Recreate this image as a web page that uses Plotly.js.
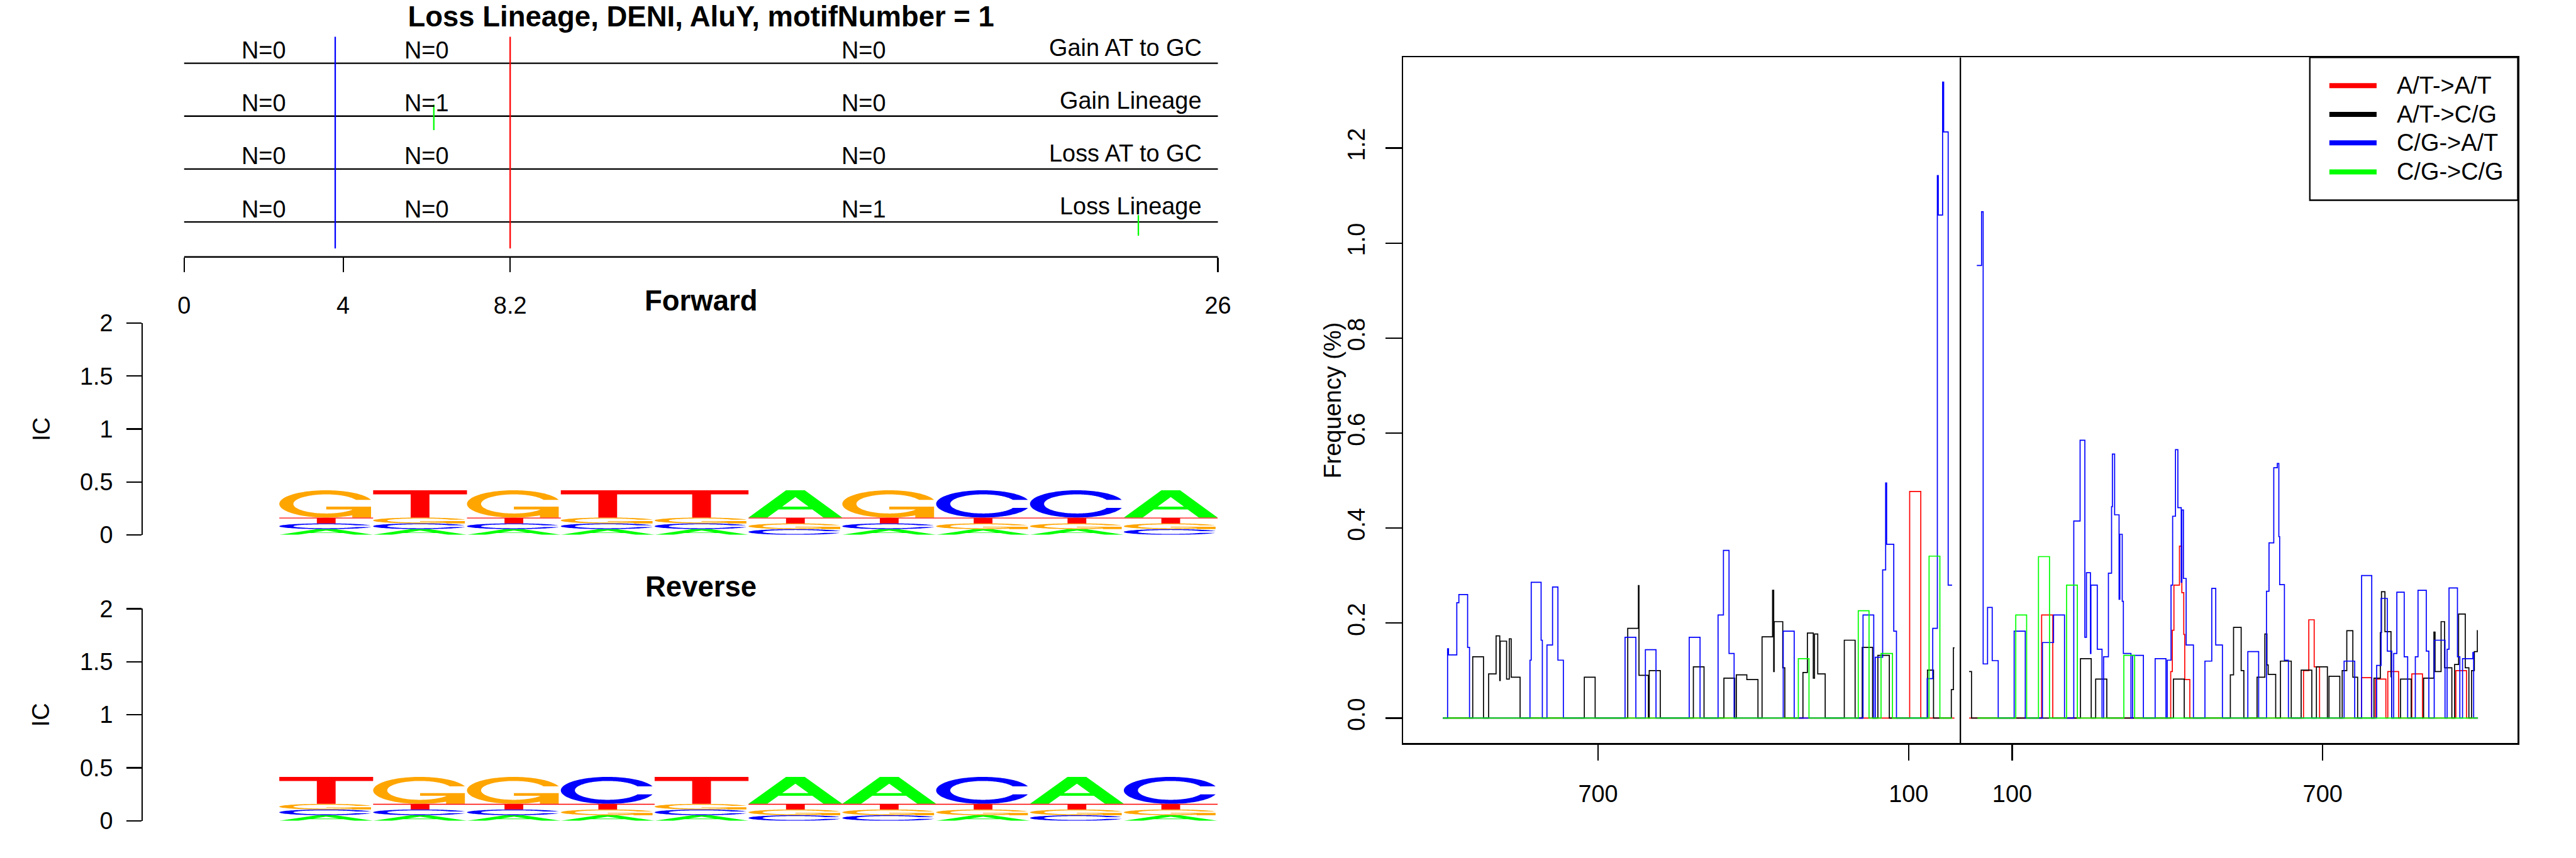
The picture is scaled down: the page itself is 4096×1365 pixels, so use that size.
<!DOCTYPE html>
<html>
<head>
<meta charset="utf-8">
<script src="https://cdn.plot.ly/plotly-3.0.1.min.js"></script>
<style>html,body{margin:0;padding:0;background:#fff;}#chart{width:4096px;height:1365px;}</style>
</head>
<body>
<div id="chart"></div>
<script>
// ================= DATA =================
// Top panel: event tracks
const rowNames = ['Gain AT to GC', 'Gain Lineage', 'Loss AT to GC', 'Loss Lineage'];
const rowLevels = [4, 3, 2, 1];
const regionBounds = [0, 4, 8.2, 26];
const countsGainATtoGC = [0, 0, 0];
const countsGainLineage = [0, 1, 0];
const countsLossATtoGC = [0, 0, 0];
const countsLossLineage = [0, 0, 1];
const motifEdgeX = [3.8, 8.2];
const motifEdgeColor = ['#0000FF', '#FF0000'];
const eventX = [6.28, 24.0];
const eventRow = [3, 1];
const eventUp = [0.217, 0.13];
const eventDown = [0.265, 0.26];

// Sequence logos (letters bottom -> top, information content heights)
const logoPos = [1, 2, 3, 4, 5, 6, 7, 8, 9, 10];
const fwdStack = ['ACTG', 'ACGT', 'ACTG', 'ACGT', 'ACGT', 'CGTA', 'ACTG', 'AGTC', 'AGTC', 'CGTA'];
const fwdHeight = [
  [0.054, 0.054, 0.055, 0.258], [0.054, 0.054, 0.055, 0.258], [0.054, 0.054, 0.055, 0.258],
  [0.054, 0.054, 0.055, 0.258], [0.054, 0.054, 0.055, 0.258], [0.054, 0.054, 0.055, 0.258],
  [0.054, 0.054, 0.055, 0.258], [0.054, 0.054, 0.055, 0.258], [0.054, 0.054, 0.055, 0.258],
  [0.054, 0.054, 0.055, 0.258]
];
const revStack = ['ACGT', 'ACTG', 'ACTG', 'AGTC', 'ACGT', 'CGTA', 'CGTA', 'AGTC', 'CGTA', 'AGTC'];
const revHeight = [
  [0.053, 0.054, 0.053, 0.254], [0.053, 0.054, 0.053, 0.254], [0.053, 0.054, 0.053, 0.254],
  [0.053, 0.054, 0.053, 0.254], [0.053, 0.054, 0.053, 0.254], [0.053, 0.054, 0.053, 0.254],
  [0.053, 0.054, 0.053, 0.254], [0.053, 0.054, 0.053, 0.254], [0.053, 0.054, 0.053, 0.254],
  [0.053, 0.054, 0.053, 0.254]
];
const logoTicks = [0, 0.5, 1, 1.5, 2];

// Frequency profile (signed distance; left half drawn mirrored)
const freqTickVals = [-700, -100, 100, 700];
const freqTickText = ['700', '100', '100', '700'];
const freqYTicks = [0, 0.2, 0.4, 0.6, 0.8, 1.0, 1.2];
const seriesNames = ['A/T->A/T', 'A/T->C/G', 'C/G->A/T', 'C/G->C/G'];
const seriesColors = ['#FF0000', '#000000', '#0000FF', '#00FF00'];

const redX = [-1000, -98.0, -76.5, -11.4, null,
  16.9, 157.0, 178.5, 406.4, 409.5, 412.6, 423.3, 427.9, 431.6, 433.5, 443.3,
  663.0, 673.2, 683.6, 694.0, 775.2, 794.2, 802.2, 822.1, 825.8, 846.7, 872.2, 892.8, 957.3, 977.9, 1000];
const redY = [0, 0.477, 0, 0, null,
  0, 0.217, 0, 0.098, 0.185, 0.28, 0.362, 0.264, 0.176, 0.081, 0,
  0.100, 0.207, 0.108, 0, 0.085, 0, 0.082, 0, 0.098, 0, 0.093, 0, 0.100, 0, 0];

const blackX = [-1000, -942.2, -921.4, -911.5, -897.1, -890.0, -889.1, -876.8, -871.6, -867.9, -850.7,
  -726.6, -705.7, -642.7, -622.1, -621.0, -602.8, -601.2, -579.8, -515.9, -495.3,
  -456.9, -436.0, -432.9, -412.6, -391.1, -383.2, -362.9, -360.7, -359.8, -343.2, -339.2,
  -304.2, -295.6, -284.2, -281.8, -275.6, -261.2, -224.3, -203.4, -189.6, -169.6, -159.4, -137.3,
  -63.6, -51.9, -17.5, -13.5, -11.4, null,
  16.9, 21.5, 232.0, 252.8, 261.4, 282.9, 411.6, 432.5, 521.6, 527.8, 542.5, 547.7,
  573.2, 588.3, 592.3, 594.7, 609.2, 618.4, 639.3, 658.4, 679.0, 687.9, 709.1, 712.2, 733.1,
  737.7, 746.6, 758.3, 767.5, 799.1, 811.4, 813.6, 820.3, 832.0, 833.5, 850.4, 871.0,
  895.0, 914.9, 917.1, 928.8, 935.5, 949.6, 954.9, 962.6, 975.5, 982.5, 987.7, 993.0, 998.8];
const blackY = [0, 0.129, 0, 0.093, 0.173, 0.079, 0.162, 0.082, 0.167, 0.086, 0,
  0.086, 0, 0.189, 0.279, 0.090, 0, 0.100, 0, 0.108, 0,
  0.084, 0, 0.091, 0.081, 0, 0.171, 0.269, 0.098, 0.203, 0.106, 0,
  0.096, 0.179, 0.084, 0.177, 0.093, 0, 0.164, 0, 0.149, 0, 0.132, 0,
  0.101, 0, 0.060, 0.148, 0.148, null,
  0.098, 0, 0.125, 0, 0.082, 0, 0.082, 0, 0.091, 0.191, 0.100, 0,
  0.086, 0.177, 0.112, 0.092, 0, 0.120, 0, 0.101, 0, 0.108, 0, 0.088, 0,
  0.100, 0.184, 0.086, 0, 0.084, 0.180, 0.266, 0.182, 0.087, 0, 0.082, 0,
  0.084, 0.181, 0.098, 0.203, 0.106, 0, 0.113, 0.219, 0.106, 0, 0.100, 0.140, 0.185];

const blueX = [-1000, -990.8, -989.0, -973.0, -969.0, -952.1, -948.4,
  -831.6, -829.2, -810.1, -807.7, -798.8, -788.0, -777.6, -767.1,
  -647.9, -627.0, -608.6, -588.1, -523.9, -503.0,
  -468.2, -457.8, -447.0, -437.2, -342.3, -321.1, -188.1, -167.4,
  -164.4, -150.2, -144.4, -142.5, -128.7, -123.5,
  -64.2, -53.4, -44.5, -42.7, -34.4, -32.3, -23.6, -16.0, null,
  31.7, 40.9, 44.0, 52.5, 61.5, 73.1, 103.9, 125.4, 158.5, 180.0, 201.2,
  219.1, 231.3, 240.5, 243.6, 251.3, 252.2, 264.5, 273.7, 276.8, 286.0, 292.1, 293.7, 298.0,
  306.6, 308.1, 312.7, 314.9, 329.6, 332.7, 353.6,
  376.3, 397.2, 399.7, 407.0, 410.1, 415.6, 420.2, 426.7, 427.9, 431.0, 436.2, 450.3,
  472.5, 485.7, 493.4, 506.3, 555.4, 576.3,
  591.4, 596.3, 605.5, 612.3, 615.3, 616.9, 626.1, 633.8,
  741.4, 761.9, 775.2, 794.8, 804.3, 812.9, 824.9, 833.5, 837.2, 843.3, 857.5, 864.2,
  879.0, 884.2, 900.2, 905.1, 915.5, 936.4, 940.4, 944.1, 960.4, 965.0, 970.2, 990.2, 991.7, 1000];
const blueY = [0, 0.146, 0.133, 0.243, 0.260, 0.149, 0,
  0.122, 0.286, 0.164, 0, 0.154, 0.276, 0.122, 0,
  0.170, 0, 0.144, 0, 0.170, 0,
  0.217, 0.353, 0.136, 0, 0.183, 0, 0.217, 0,
  0.128, 0.312, 0.495, 0.366, 0.183, 0,
  0.083, 0.189, 1.142, 1.059, 1.339, 1.234, 0.280, 0.280, null,
  0.953, 1.066, 0.114, 0.233, 0.121, 0, 0.183, 0, 0.159, 0.217, 0,
  0.415, 0.585, 0.170, 0.306, 0.136, 0.280, 0.145, 0, 0.129, 0.305, 0.445, 0.556, 0.428,
  0.250, 0.387, 0.246, 0.136, 0, 0.132, 0,
  0.125, 0, 0.122, 0.280, 0.425, 0.565, 0.443, 0.286, 0.438, 0.294, 0.154, 0,
  0.120, 0.273, 0.154, 0, 0.140, 0,
  0.267, 0.369, 0.527, 0.536, 0.382, 0.281, 0.122, 0,
  0.120, 0, 0.300, 0, 0.111, 0.252, 0.141, 0, 0.136, 0.265, 0.129, 0,
  0.129, 0.269, 0.141, 0, 0.164, 0, 0.145, 0.274, 0.129, 0, 0.125, 0.138, 0, 0];

const greenX = [-1000, -313.1, -292.5, -197.3, -176.5, -153.3, -131.2, -60.5, -39.6, -16.0, null,
  33.0, 107.0, 128.0, 150.9, 172.2, 205.2, 226.0, 315.8, 336.7, 1000];
const greenY = [0, 0.125, 0, 0.226, 0, 0.136, 0, 0.341, 0, 0, null,
  0, 0.217, 0, 0.340, 0, 0.280, 0, 0.132, 0, 0];

// ================= LAYOUT HELPERS =================
const FULL_W = 5400, FULL_H = 1800;
const K = 4096 / FULL_W;
const px = v => v / FULL_W;          // reference x pixel -> paper
const py = v => 1 - v / FULL_H;      // reference y pixel -> paper
const FS = 50 * K, FT = 60 * K;
const FONT = 'Liberation Sans, Arial, Helvetica, sans-serif';
const LW = 3 * K;

// ================= GLYPHS (unit square) =================
function arc(r, a0, a1, n) {
  const pts = [];
  for (let k = 0; k <= n; k++) {
    const t = a0 + (a1 - a0) * k / n;
    pts.push([0.5 + r * Math.sin(t), 0.5 + r * Math.cos(t)]);
  }
  return pts;
}
function ringC() {
  const a0 = 0.3 + Math.PI / 2;
  const outerLow = arc(0.5, a0, Math.PI, 30).concat(arc(0.5, Math.PI, 1.5 * Math.PI, 30).slice(1));
  const hmax = outerLow[0][1];
  const innerLow = arc(0.35, a0, Math.PI, 60).filter(p => p[1] <= hmax)
    .concat(arc(0.35, Math.PI, 1.5 * Math.PI, 30).slice(1));
  innerLow[0] = [innerLow[0][0], hmax];
  const mirror = pts => pts.slice().reverse().map(p => [p[0], 1 - p[1]]);
  const outer = outerLow.concat(mirror(outerLow).slice(1));
  const inner = innerLow.concat(mirror(innerLow).slice(1));
  return outer.concat(inner.slice().reverse());
}
const R1 = 0.5 + 0.5 * Math.sin(0.3 + Math.PI / 2);
const GLYPHS = {
  A: [[[0, 0], [0.4, 1], [0.6, 1], [1, 0], [0.8, 0], [0.68, 0.3], [0.32, 0.3], [0.2, 0], [0, 0],
       [0.36, 0.4], [0.64, 0.4], [0.5, 0.75], [0.36, 0.4]]],
  C: [ringC()],
  G: [ringC(), [[R1, 0.4], [R1, 0], [R1 - 0.2, 0], [R1 - 0.2, 0.3], [0.5, 0.3], [0.5, 0.4]]],
  T: [[[0, 1], [1, 1], [1, 0.85], [0.6, 0.85], [0.6, 0], [0.4, 0], [0.4, 0.85], [0, 0.85]]]
};
const LETTER_COLOR = {A: '#00FF00', C: '#0000FF', G: '#FFA500', T: '#FF0000'};

function logoTraces(stacks, heights, xa, ya) {
  const acc = {A: {x: [], y: []}, C: {x: [], y: []}, G: {x: [], y: []}, T: {x: [], y: []}};
  logoPos.forEach((p, i) => {
    let y0 = 0;
    stacks[i].split('').forEach((L, k) => {
      const h = heights[i][k];
      GLYPHS[L].forEach(poly => {
        poly.forEach(([u, v]) => { acc[L].x.push(p - 0.5 + u); acc[L].y.push(y0 + v * h); });
        acc[L].x.push(null); acc[L].y.push(null);
      });
      y0 += h;
    });
  });
  return 'ACGT'.split('').map(L => ({
    type: 'scatter', mode: 'lines', x: acc[L].x, y: acc[L].y, xaxis: xa, yaxis: ya,
    fill: 'toself', fillcolor: LETTER_COLOR[L], line: {width: 0, color: LETTER_COLOR[L], simplify: false},
    hoverinfo: 'skip', showlegend: false
  }));
}

// ================= TRACES =================
const traces = [];
// top panel rows
const rowX = [], rowY = [];
rowLevels.forEach(r => { rowX.push(regionBounds[0], regionBounds[regionBounds.length - 1], null); rowY.push(r, r, null); });
traces.push({type: 'scatter', mode: 'lines', x: rowX, y: rowY, xaxis: 'x', yaxis: 'y',
  line: {color: '#000', width: LW}, hoverinfo: 'skip', showlegend: false});
motifEdgeX.forEach((e, i) => traces.push({type: 'scatter', mode: 'lines', x: [e, e], y: [0.5, 4.5],
  xaxis: 'x', yaxis: 'y', line: {color: motifEdgeColor[i], width: LW}, hoverinfo: 'skip', showlegend: false}));
const evX = [], evY = [];
eventX.forEach((e, i) => { evX.push(e, e, null); evY.push(eventRow[i] - eventDown[i], eventRow[i] + eventUp[i], null); });
traces.push({type: 'scatter', mode: 'lines', x: evX, y: evY, xaxis: 'x', yaxis: 'y',
  line: {color: '#00FF00', width: LW}, hoverinfo: 'skip', showlegend: false});

// logos
traces.push(...logoTraces(fwdStack, fwdHeight, 'x2', 'y2'));
traces.push(...logoTraces(revStack, revHeight, 'x3', 'y3'));

// frequency series
[[redX, redY], [blackX, blackY], [blueX, blueY], [greenX, greenY]].forEach(([sx, sy], i) => {
  traces.push({type: 'scatter', mode: 'lines', name: seriesNames[i], x: sx, y: sy, xaxis: 'x4', yaxis: 'y4',
    line: {color: seriesColors[i], width: 1.7, shape: 'hv'}, connectgaps: false, hoverinfo: 'skip', showlegend: false});
});

// ================= ANNOTATIONS =================
const annotations = [];
const counts = [countsGainATtoGC, countsGainLineage, countsLossATtoGC, countsLossLineage];
const mids = regionBounds.slice(0, -1).map((b, i) => (b + regionBounds[i + 1]) / 2);
rowLevels.forEach((r, ri) => {
  mids.forEach((m, k) => annotations.push({xref: 'x', yref: 'y', x: m, y: r + 0.243, text: 'N=' + counts[ri][k],
    showarrow: false, xanchor: 'center', yanchor: 'middle', font: {size: FS}}));
  annotations.push({xref: 'x', yref: 'y', x: 25.63, y: r + 0.294, text: rowNames[ri],
    showarrow: false, xanchor: 'right', yanchor: 'middle', font: {size: FS}});
});
annotations.push({xref: 'paper', yref: 'paper', x: px(1469.5), y: py(631), text: '<b>Forward</b>',
  showarrow: false, xanchor: 'center', yanchor: 'middle', font: {size: FT}});
annotations.push({xref: 'paper', yref: 'paper', x: px(1469.5), y: py(1231), text: '<b>Reverse</b>',
  showarrow: false, xanchor: 'center', yanchor: 'middle', font: {size: FT}});
annotations.push({xref: 'paper', yref: 'paper', x: px(86), y: py(900), text: 'IC', textangle: -90,
  showarrow: false, xanchor: 'center', yanchor: 'middle', font: {size: FS}});
annotations.push({xref: 'paper', yref: 'paper', x: px(86), y: py(1499.5), text: 'IC', textangle: -90,
  showarrow: false, xanchor: 'center', yanchor: 'middle', font: {size: FS}});
annotations.push({xref: 'paper', yref: 'paper', x: px(2794), y: py(840), text: 'Frequency (%)', textangle: -90,
  showarrow: false, xanchor: 'center', yanchor: 'middle', font: {size: FS}});

// custom legend
const legY = [179.6, 240, 299.6, 360.5];
const shapes = [
  {type: 'line', xref: 'x', yref: 'y domain', x0: regionBounds[0], x1: regionBounds[3], y0: 0, y1: 0, line: {color: '#000', width: LW}},
  {type: 'line', xref: 'x4', yref: 'y4 domain', x0: 0, x1: 0, y0: 0, y1: 1, line: {color: '#000', width: LW}},
  {type: 'rect', xref: 'paper', yref: 'paper', x0: px(4842), x1: px(5278), y0: py(420), y1: py(120.5),
    line: {color: '#000', width: LW}, fillcolor: '#fff', layer: 'above'}
];
seriesNames.forEach((n, i) => {
  shapes.push({type: 'line', xref: 'paper', yref: 'paper', x0: px(4883), x1: px(4982), y0: py(legY[i]), y1: py(legY[i]),
    line: {color: seriesColors[i], width: 8}, layer: 'above'});
  annotations.push({xref: 'paper', yref: 'paper', x: px(5021), y: py(legY[i]), text: n, showarrow: false,
    xanchor: 'left', yanchor: 'middle', font: {size: FS}});
});

// ================= AXES =================
const baseAxis = {showgrid: false, zeroline: false, fixedrange: true, color: '#000', tickcolor: '#000', linecolor: '#000'};
const leftDomain = [px(299.3), px(2639.7)];
const layout = {
  width: 4096, height: 1365, margin: {l: 0, r: 0, t: 0, b: 0},
  paper_bgcolor: '#fff', plot_bgcolor: 'rgba(0,0,0,0)',
  font: {family: FONT, color: '#000', size: FS},
  showlegend: false, hovermode: false,
  title: {text: '<b>Loss Lineage, DENI, AluY, motifNumber = 1</b>', xref: 'paper', yref: 'paper',
    x: px(1469.5), y: py(35), xanchor: 'center', yanchor: 'middle', font: {size: FT, color: '#000'}},
  xaxis: Object.assign({}, baseAxis, {domain: leftDomain, range: [-1.04, 27.04], anchor: 'y',
    tickmode: 'array', tickvals: regionBounds, ticktext: regionBounds.map(String), ticks: 'outside',
    ticklen: 31 * K, tickwidth: LW, showline: false, tickfont: {size: FS}, ticklabelstandoff: 20}),
  yaxis: Object.assign({}, baseAxis, {domain: [py(539), py(59.3)], range: [0.34, 4.66], anchor: 'x', visible: false}),
  xaxis2: Object.assign({}, baseAxis, {domain: leftDomain, range: [-0.955, 10.943], anchor: 'y2', visible: false}),
  yaxis2: Object.assign({}, baseAxis, {domain: [py(1122), py(678)], range: [0, 2], anchor: 'x2',
    showline: true, linewidth: LW, ticks: 'outside', ticklen: 31 * K, tickwidth: LW,
    tickmode: 'array', tickvals: logoTicks, ticktext: logoTicks.map(String), tickfont: {size: FS}, ticklabelstandoff: 14}),
  xaxis3: Object.assign({}, baseAxis, {domain: leftDomain, range: [-0.955, 10.943], anchor: 'y3', visible: false}),
  yaxis3: Object.assign({}, baseAxis, {domain: [py(1722), py(1277)], range: [0, 2], anchor: 'x3',
    showline: true, linewidth: LW, ticks: 'outside', ticklen: 31 * K, tickwidth: LW,
    tickmode: 'array', tickvals: logoTicks, ticktext: logoTicks.map(String), tickfont: {size: FS}, ticklabelstandoff: 14}),
  xaxis4: Object.assign({}, baseAxis, {domain: [px(2941), px(5278)], range: [-1077, 1077], anchor: 'y4',
    showline: true, mirror: true, linewidth: LW, ticks: 'outside', ticklen: 33 * K, tickwidth: LW,
    tickmode: 'array', tickvals: freqTickVals, ticktext: freqTickText, tickfont: {size: FS}, ticklabelstandoff: 21}),
  yaxis4: Object.assign({}, baseAxis, {domain: [py(1559), py(120.5)], range: [-0.0527, 1.3909], anchor: 'x4',
    showline: true, mirror: true, linewidth: LW, ticks: 'outside', ticklen: 34 * K, tickwidth: LW,
    tickmode: 'array', tickvals: freqYTicks, ticktext: freqYTicks.map(v => v.toFixed(1)), tickangle: -90,
    tickfont: {size: FS}, ticklabelstandoff: 18}),
  shapes: shapes,
  annotations: annotations
};

Plotly.newPlot('chart', traces, layout, {displayModeBar: false, staticPlot: true});
</script>
</body>
</html>
